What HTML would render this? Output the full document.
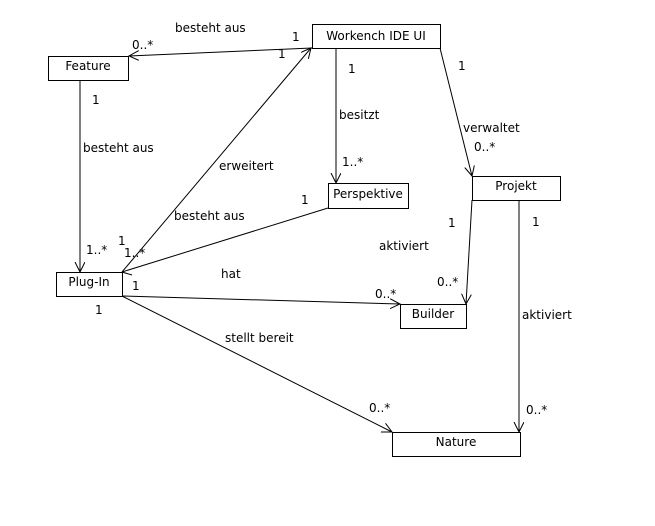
<!DOCTYPE html>
<html><head><meta charset="utf-8"><style>
html,body{margin:0;padding:0;background:#fff;}
svg{display:block;}
text{font-family:"DejaVu Sans","Liberation Sans",sans-serif;font-size:12px;fill:#000;}
</style></head><body>
<svg width="655" height="526" viewBox="0 0 655 526" xmlns="http://www.w3.org/2000/svg">
<defs>
<marker id="a" markerWidth="12" markerHeight="12" refX="10" refY="5" orient="auto" markerUnits="userSpaceOnUse">
<path d="M0,0 L10,5 L0,10" fill="none" stroke="#000" stroke-width="1"/>
</marker>
</defs>
<g fill="#fff" stroke="#000" stroke-width="1">
<rect x="48.5" y="56.5" width="80" height="24"/>
<rect x="312.5" y="24.5" width="128" height="24"/>
<rect x="328.5" y="183.5" width="80" height="25"/>
<rect x="56.5" y="272.5" width="66" height="24"/>
<rect x="472.5" y="176.5" width="88" height="24"/>
<rect x="400.5" y="304.5" width="66" height="24"/>
<rect x="392.5" y="432.5" width="128" height="24"/>
</g>
<g stroke="#000" stroke-width="1" fill="none">
<line x1="312" y1="48" x2="129" y2="56" marker-end="url(#a)"/>
<line x1="80" y1="81" x2="80" y2="272" marker-end="url(#a)"/>
<line x1="122" y1="272" x2="311" y2="48" marker-end="url(#a)"/>
<line x1="336" y1="49" x2="336" y2="183" marker-end="url(#a)"/>
<line x1="328" y1="208" x2="122" y2="272"/>
<line x1="440" y1="48" x2="472" y2="176" marker-end="url(#a)"/>
<line x1="472" y1="200" x2="466" y2="304" marker-end="url(#a)"/>
<line x1="122" y1="296" x2="400" y2="304" marker-end="url(#a)"/>
<line x1="122" y1="296" x2="392" y2="432" marker-end="url(#a)"/>
<line x1="519" y1="200" x2="519" y2="432" marker-end="url(#a)"/>
<line x1="122" y1="272" x2="132" y2="275"/>
</g>
<text x="376" y="40" text-anchor="middle">Workench IDE UI</text>
<text x="88" y="70" text-anchor="middle">Feature</text>
<text x="368" y="198" text-anchor="middle">Perspektive</text>
<text x="516" y="190" text-anchor="middle">Projekt</text>
<text x="89" y="286" text-anchor="middle">Plug-In</text>
<text x="433" y="318" text-anchor="middle">Builder</text>
<text x="456" y="446" text-anchor="middle">Nature</text>

<text x="175" y="32">besteht aus</text>
<text x="132" y="49">0..*</text>
<text x="292" y="41">1</text>
<text x="278" y="58">1</text>
<text x="92" y="104">1</text>
<text x="83" y="152">besteht aus</text>
<text x="86" y="254">1..*</text>
<text x="348" y="73">1</text>
<text x="339" y="119">besitzt</text>
<text x="342" y="166">1..*</text>
<text x="458" y="70">1</text>
<text x="463" y="132">verwaltet</text>
<text x="474" y="151">0..*</text>
<text x="219" y="170">erweitert</text>
<text x="174" y="220">besteht aus</text>
<text x="301" y="204">1</text>
<text x="118" y="245">1</text>
<text x="124" y="257">1..*</text>
<text x="448" y="227">1</text>
<text x="379" y="250">aktiviert</text>
<text x="437" y="286">0..*</text>
<text x="532" y="226">1</text>
<text x="221" y="278">hat</text>
<text x="132" y="290">1</text>
<text x="95" y="314">1</text>
<text x="375" y="298">0..*</text>
<text x="225" y="342">stellt bereit</text>
<text x="369" y="412">0..*</text>
<text x="522" y="319">aktiviert</text>
<text x="526" y="414">0..*</text>
</svg>
</body></html>
